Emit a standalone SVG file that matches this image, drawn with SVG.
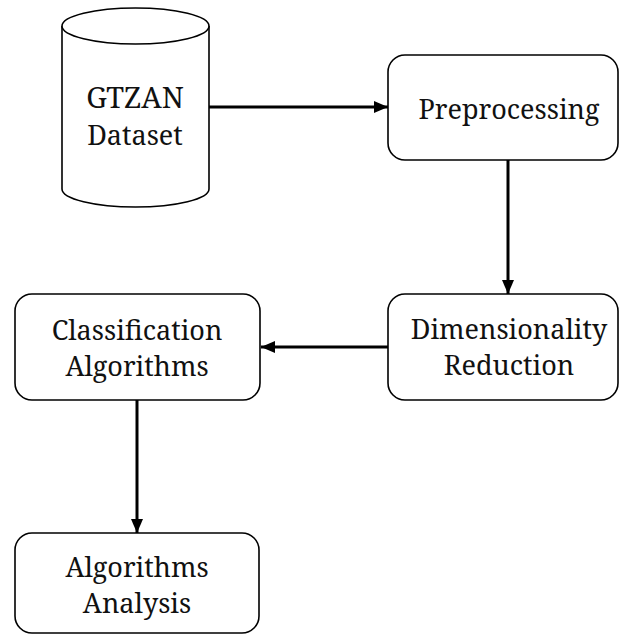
<svg xmlns="http://www.w3.org/2000/svg" width="620" height="636" viewBox="0 0 620 636">
<defs>
<style>
.box{fill:#fff;stroke:#000;stroke-width:1.6}
.lbl{font-family:'Noto Serif','DejaVu Serif',serif;font-size:27px;fill:#111;text-anchor:middle}
.big{font-size:29px}
.conn{stroke:#000;stroke-width:3;fill:none}
</style>
<marker id="ah" markerWidth="14" markerHeight="12" refX="14" refY="6" orient="auto" markerUnits="userSpaceOnUse">
<path d="M0,0 L14,6 L0,12 Z" fill="#000"/>
</marker>
</defs>
<rect width="620" height="636" fill="#fff"/>
<g id="gtzan">
<path class="box" d="M62,26 L62,189 A73.5,18 0 0 0 209,189 L209,26"/>
<ellipse class="box" cx="135.5" cy="26" rx="73.5" ry="18"/>
<text class="lbl big" x="135" y="108">GTZAN</text>
<text class="lbl" x="135" y="145">Dataset</text>
</g>
<g id="preprocessing">
<rect class="box" x="388" y="55" width="230" height="105" rx="17"/>
<text class="lbl" x="509" y="119">Preprocessing</text>
</g>
<g id="dimensionality">
<rect class="box" x="388" y="294" width="230" height="106" rx="17"/>
<text class="lbl" x="509" y="339">Dimensionality</text>
<text class="lbl" x="509" y="375">Reduction</text>
</g>
<g id="classification">
<rect class="box" x="15" y="294" width="245" height="106" rx="17"/>
<text class="lbl" x="137" y="340">Classification</text>
<text class="lbl" x="137" y="376">Algorithms</text>
</g>
<g id="analysis">
<rect class="box" x="15" y="533" width="244" height="100" rx="17"/>
<text class="lbl" x="137" y="577">Algorithms</text>
<text class="lbl" x="137" y="613">Analysis</text>
</g>
<g id="connectors">
<line class="conn" x1="209" y1="107" x2="388" y2="107" marker-end="url(#ah)"/>
<line class="conn" x1="508" y1="160" x2="508" y2="294" marker-end="url(#ah)"/>
<line class="conn" x1="388" y1="347" x2="261" y2="347" marker-end="url(#ah)"/>
<line class="conn" x1="137" y1="400" x2="137" y2="533" marker-end="url(#ah)"/>
</g>
</svg>
